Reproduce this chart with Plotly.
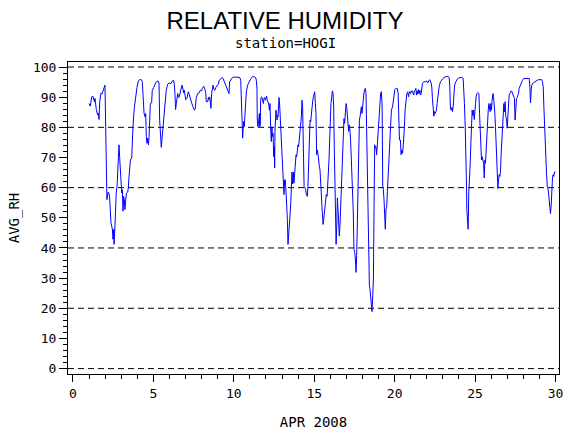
import plotly.graph_objects as go

# hourly-ish readings for April 2008, x = day of month
DAY = [
    1.00, 1.08, 1.16, 1.24, 1.33, 1.37, 1.45, 1.53, 1.58, 1.62, 1.66, 1.74, 1.80, 1.87, 1.95, 1.99,
    2.03, 2.07, 2.11, 2.18, 2.24, 2.28, 2.36, 2.45, 2.49, 2.53, 2.55, 2.61, 2.65, 2.69, 2.74, 2.78,
    2.82, 2.86, 2.90, 2.94, 2.99, 3.03, 3.07, 3.11, 3.15, 3.19, 3.23, 3.28, 3.32, 3.40, 3.44, 3.48,
    3.57, 3.65, 3.69, 3.73, 3.81, 3.90, 3.98, 4.06, 4.15, 4.25, 4.31, 4.35, 4.42, 4.48, 4.52, 4.56,
    4.60, 4.64, 4.69, 4.73, 4.77, 4.81, 4.89, 4.93, 5.02, 5.10, 5.18, 5.29, 5.35, 5.39, 5.43, 5.49,
    5.53, 5.60, 5.68, 5.76, 5.80, 5.89, 5.97, 6.09, 6.18, 6.26, 6.30, 6.34, 6.38, 6.43, 6.47, 6.51,
    6.55, 6.59, 6.63, 6.72, 6.78, 6.84, 6.88, 6.92, 6.97, 7.01, 7.09, 7.17, 7.21, 7.26, 7.30, 7.38,
    7.46, 7.55, 7.59, 7.63, 7.67, 7.75, 7.84, 7.92, 8.00, 8.04, 8.13, 8.21, 8.25, 8.29, 8.38, 8.42,
    8.46, 8.50, 8.54, 8.58, 8.62, 8.67, 8.71, 8.75, 8.83, 8.87, 8.96, 9.04, 9.08, 9.16, 9.25, 9.33,
    9.41, 9.49, 9.58, 9.66, 9.70, 9.74, 9.83, 9.91, 10.03, 10.16, 10.28, 10.37,
    10.43, 10.47, 10.49, 10.53, 10.55, 10.57, 10.61, 10.65, 10.70, 10.74, 10.78, 10.86, 10.94, 11.03,
    11.11, 11.19, 11.28, 11.36, 11.40, 11.44, 11.46, 11.50, 11.55, 11.59, 11.61, 11.65, 11.67, 11.71,
    11.75, 11.79, 11.84, 11.88, 11.92, 11.96, 12.00, 12.04, 12.08, 12.13, 12.17, 12.21, 12.25, 12.29,
    12.33, 12.37, 12.40, 12.44, 12.48, 12.52, 12.54, 12.56, 12.58, 12.62, 12.66, 12.69, 12.71, 12.75,
    12.77, 12.81, 12.85, 12.89, 12.93, 12.98, 13.02, 13.06, 13.10, 13.12, 13.16, 13.20, 13.25, 13.29,
    13.33, 13.37, 13.41, 13.45, 13.49, 13.54, 13.58, 13.62, 13.66, 13.70, 13.74, 13.78, 13.83, 13.87,
    13.91, 13.95, 13.99, 14.03, 14.07, 14.12, 14.16, 14.20, 14.24, 14.28, 14.30, 14.34, 14.37, 14.43,
    14.47, 14.51, 14.57, 14.61, 14.66, 14.70, 14.74, 14.78, 14.82, 14.86, 14.90, 14.95, 14.99, 15.03,
    15.07, 15.11, 15.15, 15.19, 15.24, 15.28, 15.32, 15.36, 15.40, 15.44, 15.48, 15.53, 15.55, 15.59,
    15.63, 15.67, 15.71, 15.75, 15.80, 15.84, 15.88, 15.92, 15.96, 16.00, 16.04, 16.09, 16.13, 16.17,
    16.21, 16.25, 16.29, 16.33, 16.36, 16.40, 16.44, 16.48, 16.52, 16.56, 16.60, 16.65, 16.69, 16.73,
    16.77, 16.81, 16.85, 16.89, 16.94, 16.98, 17.02, 17.06, 17.10, 17.14, 17.18, 17.23, 17.27, 17.31,
    17.35, 17.39, 17.43, 17.47, 17.52, 17.56, 17.60, 17.64, 17.68, 17.72, 17.76, 17.81, 17.85, 17.89,
    17.93, 17.97, 18.01, 18.05, 18.10, 18.14, 18.18, 18.22, 18.26, 18.30, 18.35, 18.39, 18.43, 18.47,
    18.51, 18.55, 18.59, 18.64, 18.68, 18.72, 18.76, 18.80, 18.84, 18.88, 18.93, 18.97, 19.01, 19.05,
    19.09, 19.13, 19.17, 19.22, 19.26, 19.30, 19.34, 19.38, 19.42, 19.46, 19.51, 19.55, 19.59, 19.63,
    19.67, 19.71, 19.76, 19.80,
    19.87, 19.95, 20.01, 20.07, 20.16, 20.22, 20.26, 20.30, 20.36, 20.40, 20.45, 20.49, 20.53, 20.57,
    20.61, 20.65, 20.70, 20.76, 20.82, 20.86, 20.90, 20.94, 20.99, 21.03, 21.07, 21.11, 21.15, 21.19,
    21.23, 21.28, 21.32, 21.36, 21.40, 21.44, 21.48, 21.52, 21.57, 21.61, 21.65, 21.69, 21.73, 21.81,
    21.90, 21.98, 22.06, 22.15, 22.19, 22.27, 22.31, 22.35, 22.40, 22.44, 22.48, 22.52, 22.56, 22.60,
    22.64, 22.69, 22.73, 22.77, 22.85, 22.93, 23.02, 23.10, 23.22, 23.31, 23.39, 23.43, 23.47, 23.51,
    23.56, 23.60, 23.64, 23.68, 23.72, 23.76, 23.85, 23.93, 24.05, 24.18, 24.26, 24.30, 24.34, 24.39,
    24.43, 24.47, 24.49, 24.53, 24.57, 24.61, 24.65, 24.70, 24.74, 24.78, 24.82, 24.86, 24.90, 24.95,
    24.99, 25.03, 25.07, 25.11, 25.17, 25.24, 25.28, 25.32, 25.36, 25.40, 25.44, 25.48, 25.53, 25.57,
    25.61, 25.65, 25.69, 25.73, 25.77, 25.82, 25.86, 25.90, 25.94, 25.98, 26.02, 26.06, 26.11, 26.15,
    26.19, 26.23, 26.27, 26.31, 26.35, 26.40, 26.42, 26.46, 26.50, 26.54, 26.58, 26.62, 26.67, 26.71,
    26.75, 26.79, 26.83, 26.87, 26.91, 26.96, 27.00, 27.04, 27.08, 27.12, 27.16, 27.20, 27.25, 27.29,
    27.33, 27.37, 27.41, 27.45, 27.49, 27.54, 27.58, 27.62, 27.66, 27.70, 27.74, 27.79, 27.87, 27.95,
    28.03, 28.16, 28.28, 28.37, 28.41, 28.45, 28.49, 28.53, 28.61, 28.70, 28.78, 28.86, 28.95, 29.03,
    29.11, 29.15, 29.19, 29.24, 29.28, 29.32, 29.36, 29.40, 29.44, 29.49, 29.53, 29.57, 29.61, 29.65,
    29.69, 29.73, 29.78, 29.82, 29.86, 29.90, 29.94, 30.00,
]

AVG_RH = [
    87.9, 87.0, 90.1, 90.3, 88.5, 89.6, 85.9, 84.1, 84.6, 82.6, 88.5, 91.4, 91.0, 92.5, 93.4, 94.0,
    82.4, 69.2, 56.0, 58.5, 58.2, 56.6, 48.4, 46.2, 42.9, 46.2, 41.2, 47.3, 56.3, 58.5, 60.4, 65.9,
    68.1, 74.2, 70.3, 64.8, 60.4, 58.2, 59.3, 52.2, 57.1, 56.0, 52.7, 57.1, 58.2, 58.5, 59.9, 63.2,
    69.2, 69.8, 76.7, 80.2, 86.3, 91.2, 93.2, 95.4, 95.8, 95.8, 95.1, 91.2, 84.6, 83.5, 84.6, 76.9,
    74.7, 76.4, 74.2, 76.9, 83.0, 87.9, 88.1, 92.3, 93.2, 94.3, 95.1, 95.4, 94.7, 82.4, 75.8, 73.4,
    75.8, 80.2, 84.6, 89.6, 92.3, 94.3, 94.7, 94.5, 95.4, 95.6, 94.3, 91.2, 85.9, 88.1, 89.2, 91.2,
    90.3, 89.9, 90.7, 92.5, 94.0, 92.7, 91.4, 92.3, 90.7, 89.2, 89.6, 91.8, 91.2, 90.1, 89.2, 88.1,
    86.8, 85.7, 85.9, 87.9, 89.9, 91.2, 91.4, 92.3, 92.1, 92.9, 93.6, 92.5, 91.6, 88.5, 88.5, 89.9,
    89.2, 90.1, 87.9, 86.3, 91.2, 93.4, 94.0, 92.7, 92.3, 93.2, 94.0, 94.3, 95.4, 95.8, 96.5, 96.2,
    95.1, 93.6, 92.3, 91.2, 91.2, 95.1, 95.8, 96.5, 96.7, 96.7, 96.7, 96.5,
    95.6, 90.1, 81.9, 80.2, 76.4, 78.6, 81.9, 80.2, 85.7, 89.6, 91.8, 94.0, 95.1, 95.8,
    96.5, 96.9, 96.7, 96.5, 95.6, 92.9, 82.4, 80.2, 82.4, 84.6, 80.2, 80.8, 89.0, 90.1,
    89.9, 88.5, 87.9, 89.6, 89.9, 89.0, 90.1, 90.3, 89.0, 87.9, 87.7, 85.7, 87.9, 80.2,
    75.3, 80.2, 76.9, 78.0, 70.3, 73.6, 66.5, 79.1, 82.4, 85.7, 84.4, 82.4, 84.1, 83.5,
    88.5, 89.9, 87.4, 83.5, 76.9, 72.5, 69.2, 65.9, 62.6, 57.7, 62.6, 62.6, 58.2, 54.9,
    49.5, 41.2, 46.2, 47.3, 50.5, 54.9, 58.2, 65.2, 61.2, 65.2, 61.5, 65.9, 68.1, 70.9,
    70.3, 72.5, 74.2, 73.6, 75.8, 79.7, 80.2, 83.5, 89.0, 86.8, 80.2, 69.2, 60.4, 59.9,
    59.3, 57.7, 57.1, 60.4, 70.3, 79.1, 82.4, 81.9, 84.6, 86.8, 88.5, 90.1, 91.2, 91.8,
    87.9, 84.6, 70.9, 72.5, 70.9, 68.1, 67.0, 65.9, 63.2, 58.2, 53.8, 50.5, 47.8, 49.5,
    51.6, 53.8, 55.5, 57.7, 57.1, 60.4, 65.2, 69.2, 75.8, 83.5, 87.9, 90.1, 92.1, 91.2,
    86.8, 72.5, 57.7, 51.6, 41.2, 47.3, 56.6, 52.7, 48.4, 44.0, 47.3, 53.8, 60.4, 65.9,
    73.6, 80.2, 82.9, 81.3, 85.7, 87.9, 86.8, 82.9, 81.9, 78.6, 80.8, 78.6, 74.7, 69.2,
    63.7, 58.2, 51.6, 39.6, 38.5, 36.3, 31.9, 37.4, 51.6, 63.7, 74.7, 82.4, 83.5, 85.7,
    86.8, 84.6, 87.9, 90.1, 91.8, 92.5, 92.9, 91.2, 75.8, 60.4, 47.3, 36.3, 27.5, 26.4,
    24.2, 23.1, 18.9, 24.2, 29.7, 53.8, 74.2, 73.1, 73.6, 70.9, 74.7, 78.0, 82.4, 84.6,
    87.9, 91.2, 91.8, 87.9, 60.4, 59.3, 56.0, 49.5, 46.2, 52.7, 53.8, 58.8, 63.7, 69.2,
    74.7, 78.0, 82.9, 85.7,
    86.8, 90.1, 92.5, 92.9, 92.9, 91.2, 84.6, 75.8, 75.8, 70.9, 72.5, 71.4, 73.6, 75.8,
    80.2, 85.7, 89.0, 91.2, 91.8, 90.1, 91.2, 91.8, 91.2, 92.1, 91.8, 92.1, 91.2, 90.7,
    92.1, 92.3, 92.9, 90.7, 92.1, 91.0, 92.5, 91.2, 92.3, 90.7, 91.2, 94.0, 94.5, 95.1,
    95.1, 95.4, 94.7, 95.6, 95.8, 94.7, 93.4, 89.6, 86.8, 83.7, 85.2, 84.6, 85.2, 85.7,
    87.9, 90.1, 92.3, 93.6, 95.1, 95.8, 96.2, 96.7, 96.7, 96.9, 96.5, 93.4, 86.3, 85.7,
    86.6, 85.2, 86.8, 91.2, 93.4, 94.7, 95.6, 96.2, 96.5, 96.5, 96.2, 93.4, 87.9, 80.2,
    73.6, 60.4, 52.7, 47.3, 46.2, 58.2, 61.5, 68.1, 74.7, 82.4, 85.7, 83.9, 85.7, 82.6,
    86.8, 87.9, 90.1, 91.2, 91.5, 91.2, 84.6, 76.9, 70.9, 69.2, 70.3, 69.2, 68.1, 63.2,
    69.2, 68.1, 72.5, 80.2, 82.4, 85.7, 87.9, 86.8, 85.2, 87.9, 85.7, 89.0, 91.2, 90.1,
    87.9, 84.6, 80.2, 73.6, 68.6, 65.2, 59.7, 62.6, 64.3, 63.7, 65.2, 70.9, 75.8, 80.2,
    84.6, 87.9, 85.2, 88.5, 83.7, 82.4, 79.7, 84.6, 89.0, 90.7, 91.2, 91.8, 92.1, 91.8,
    91.2, 90.7, 90.1, 89.6, 82.4, 87.9, 89.6, 89.9, 90.3, 91.2, 92.9, 93.6, 94.7, 95.6,
    96.2, 96.2, 96.2, 96.2, 93.4, 88.1, 92.3, 94.0, 94.7, 95.1, 95.4, 95.6, 95.8, 95.8,
    95.6, 95.8, 95.1, 93.4, 86.8, 80.2, 73.6, 67.6, 65.2, 60.4, 59.9, 58.2, 56.0, 52.2,
    51.4, 53.8, 60.4, 63.7, 64.3, 63.7, 65.2, 65.2,
]

GRID_LEVELS = [0, 20, 40, 60, 80, 100]

MONO = "DejaVu Sans Mono"

fig = go.Figure(go.Scatter(
    x=DAY,
    y=AVG_RH,
    mode="lines",
    line=dict(color="#0000ff", width=1),
    hoverinfo="skip",
))

# dashed reference lines every 20
for lvl in GRID_LEVELS:
    fig.add_hline(y=lvl, line=dict(color="black", width=1, dash="6px,4px"), layer="below")

fig.update_layout(
    width=570,
    height=430,
    margin=dict(l=68, r=11, t=62, b=56),
    paper_bgcolor="white",
    plot_bgcolor="white",
    showlegend=False,
    title=dict(
        text="RELATIVE HUMIDITY",
        font=dict(family="Liberation Sans", size=24, color="black"),
        x=0.5, xref="container", xanchor="center",
        y=0.953, yref="container", yanchor="middle",
    ),
    annotations=[dict(
        text="station=HOGI",
        font=dict(family=MONO, size=14, color="black"),
        xref="paper", yref="paper", x=0.442, y=1.06,
        xanchor="center", yanchor="middle", showarrow=False,
    )],
)

fig.update_xaxes(
    range=[-0.31, 30.22],
    tick0=0, dtick=5,
    ticks="outside", ticklen=7, tickwidth=1, tickcolor="black",
    minor=dict(dtick=1, ticks="outside", ticklen=4, tickwidth=1, tickcolor="black", showgrid=False),
    showline=True, linecolor="black", linewidth=1, mirror=True,
    showgrid=False, zeroline=False, automargin=False,
    tickfont=dict(family=MONO, size=13, color="black"),
    title=dict(text="APR 2008", font=dict(family=MONO, size=14, color="black"), standoff=20),
)

fig.update_yaxes(
    range=[-1.79, 101.66],
    tick0=0, dtick=10,
    ticks="outside", ticklen=8, tickwidth=1, tickcolor="black",
    minor=dict(dtick=2, ticks="outside", ticklen=4, tickwidth=1, tickcolor="black", showgrid=False),
    showline=True, linecolor="black", linewidth=1, mirror=True,
    showgrid=False, zeroline=False, automargin=False,
    tickfont=dict(family=MONO, size=13, color="black"),
    title=dict(text="AVG_RH", font=dict(family=MONO, size=14, color="black"), standoff=10),
)

# page body has a default 8px margin; drop it so the 570x430 figure fills the window
fig.write_html(
    "out.html",
    config={"displayModeBar": False},
    post_script="document.body.style.margin='0';",
)
